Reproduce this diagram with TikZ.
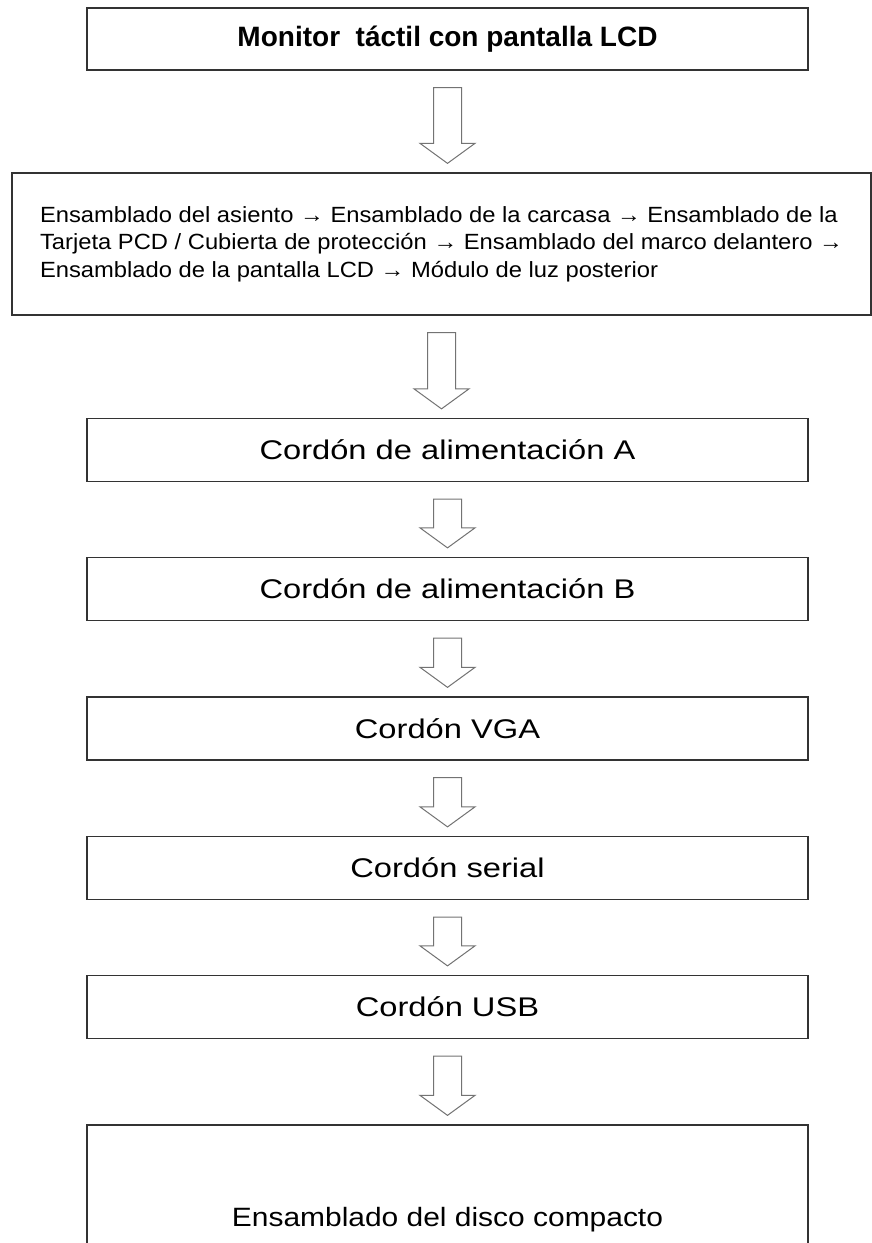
\documentclass[tikz,border=0pt]{standalone}
\usepackage{fontspec}
\setmainfont{Liberation Sans}
\newfontfamily\letracaja{Liberation Sans}[FakeStretch=1.21]
\newfontfamily\letrapasos{Liberation Sans}[FakeStretch=1.08]
\newfontfamily\letradisco{Liberation Sans}[FakeStretch=1.13]
\usetikzlibrary{calc}

% block arrow between two boxes
\newcommand{\flecha}[2]{%
  \draw[flecha] let \p1=(#1.south), \p2=(#2.north) in
    (\x1-14pt,\y1-17pt) -- (\x1-14pt,\y2+29pt) -- (\x1-27.5pt,\y2+29pt) -- (\x1,\y2+9pt)
    -- (\x1+27.5pt,\y2+29pt) -- (\x1+14pt,\y2+29pt) -- (\x1+14pt,\y1-17pt) -- cycle;}

\begin{document}
\begin{tikzpicture}[x=1pt,y=-1pt,
caja/.style = {draw=black!80, line width=1.3pt, minimum width=721pt,
              minimum height=63pt, inner sep=0pt,
              font=\letracaja\fontsize{27}{30}\selectfont},
flecha/.style = {draw=black!55, line width=1pt, fill=white, line join=miter}
                ]
    \useasboundingbox (0,0) rectangle (872,1243);
    \node[caja, minimum height=62pt, font=\bfseries\fontsize{28}{32}\selectfont]
        (monitor) at (447.5,39) {Monitor~ táctil con pantalla LCD};
    \node[caja, minimum width=859pt, minimum height=142pt,
          align=left, font=\letrapasos\fontsize{22}{27.5}\selectfont] (ensamble) at (441.5,244)
        {Ensamblado del asiento → Ensamblado de la carcasa → Ensamblado de la\\
         Tarjeta PCD / Cubierta de protección → Ensamblado del marco delantero →\\
         Ensamblado de la pantalla LCD → Módulo de luz posterior};
    \foreach \y/\n/\t in {450/cordA/Cordón de alimentación A, 589/cordB/Cordón de alimentación B,
                          728.5/vga/Cordón VGA, 868/serial/Cordón serial, 1007/usb/Cordón USB}
        \node[caja] (\n) at (447.5,\y) {\t};
    \node[caja, minimum height=190pt, font=\letradisco\fontsize{26.5}{30}\selectfont]
        (disco) at (447.5,1220) {Ensamblado del disco compacto};
    \foreach \a/\b in {monitor/ensamble, ensamble/cordA, cordA/cordB, cordB/vga,
                       vga/serial, serial/usb, usb/disco}
        \flecha{\a}{\b};
\end{tikzpicture}
\end{document}
